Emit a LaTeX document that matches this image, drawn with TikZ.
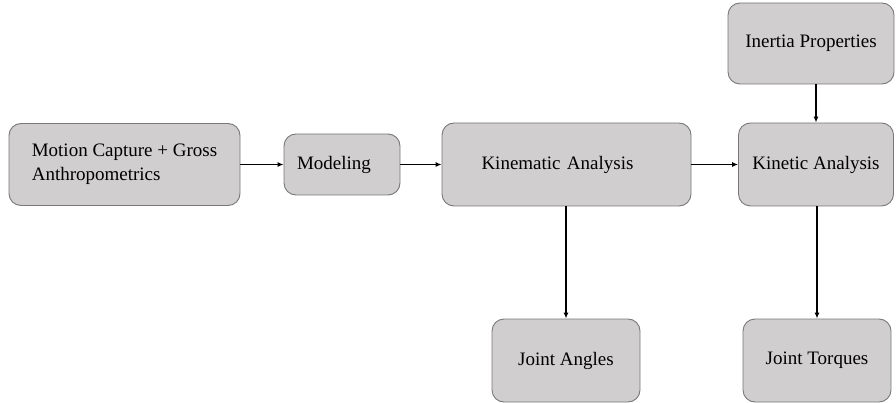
\documentclass[tikz,border=0pt]{standalone}
\usepackage{fontspec}
\setmainfont{Liberation Serif}
\usetikzlibrary{arrows.meta}
\definecolor{boxfill}{RGB}{208,206,206}
\definecolor{boxline}{RGB}{120,120,120}
\tikzset{
  block/.style={draw=boxline, fill=boxfill, line width=0.9pt, rounded corners=12pt,
    font=\fontsize{19}{24}\selectfont, text=black, inner sep=0pt},
  flow/.style={-{Latex[length=6pt,width=5pt]}, line width=1.4pt, black}
}
\begin{document}
\begin{tikzpicture}[x=1pt,y=-1pt]
  \useasboundingbox (0,0) rectangle (896,403);
  \node[block, align=left, minimum width=231pt, minimum height=82pt] (motion) at (124.5,164.5) {Motion Capture + Gross\\Anthropometrics};
  \node[block, text width=90pt, align=left, minimum width=116pt, minimum height=61pt] (modeling) at (342,164.5) {Modeling};
  \node[block, text width=170pt, align=left, minimum width=249pt, minimum height=83pt] (kinematic) at (566.5,164.5) {Kinematic Analysis};
  \node[block, minimum width=155pt, minimum height=83pt] (kinetic) at (816,164.5) {Kinetic Analysis};
  \node[block, minimum width=166pt, minimum height=81pt] (inertia) at (811,43.5) {Inertia Properties};
  \node[block, minimum width=148pt, minimum height=83pt] (angles) at (566,360.5) {Joint Angles};
  \node[block, minimum width=148pt, minimum height=83pt] (torques) at (817,360.5) {Joint Torques};
  \draw[flow] (motion) -- (modeling);
  \draw[flow] (modeling) -- (kinematic);
  \draw[flow] (kinematic) -- (kinetic);
  \draw[flow] (inertia.south -| kinetic.north) -- (kinetic);
  \draw[flow] (kinematic.south -| angles.north) -- (angles);
  \draw[flow] (kinetic.south -| torques.north) -- (torques);
\end{tikzpicture}
\end{document}
